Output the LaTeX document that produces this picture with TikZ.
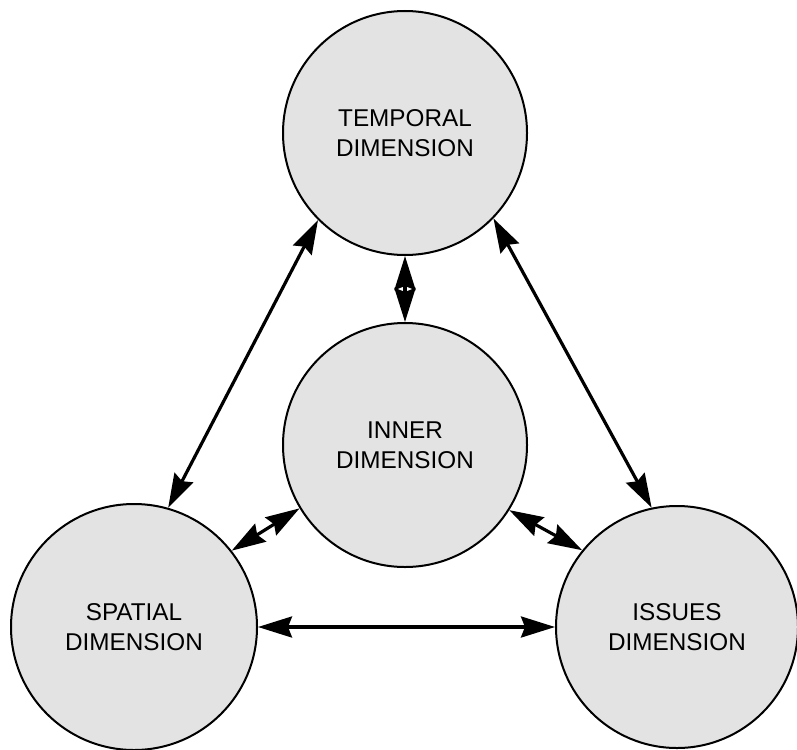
\documentclass[tikz,border=0pt]{standalone}
\usepackage{fontspec}
\setmainfont{Liberation Sans}
\usetikzlibrary{arrows.meta}
\begin{document}
\begin{tikzpicture}[x=1pt,y=-1pt,
  dim/.style={circle,draw=black,line width=2pt,fill=black!11,inner sep=0pt,
    align=center,font=\fontsize{24.3}{30}\selectfont,text=black},
  link/.style={line width=3.2pt,{Stealth[length=34pt,width=21pt,inset=4pt]}-{Stealth[length=34pt,width=21pt,inset=4pt]}}]
\useasboundingbox (0,0) rectangle (797,749);
\node[dim,minimum size=244pt] (temporal) at (405,133) {TEMPORAL\\DIMENSION};
\node[dim,minimum size=244pt] (inner) at (405,445) {INNER\\DIMENSION};
\node[dim,minimum size=246pt] (spatial) at (134,627) {SPATIAL\\DIMENSION};
\node[dim,minimum size=242pt] (issues) at (677,627) {ISSUES\\DIMENSION};
\draw[link] (temporal.270) -- (inner.90);
\draw[link] (temporal.225) -- (spatial.74.5);
\draw[link] (temporal.316) -- (issues.102);
\draw[link] (spatial.0) -- (issues.180);
\draw[link] (inner.211) -- (spatial.38);
\draw[link] (inner.328) -- (issues.141);
\end{tikzpicture}
\end{document}
